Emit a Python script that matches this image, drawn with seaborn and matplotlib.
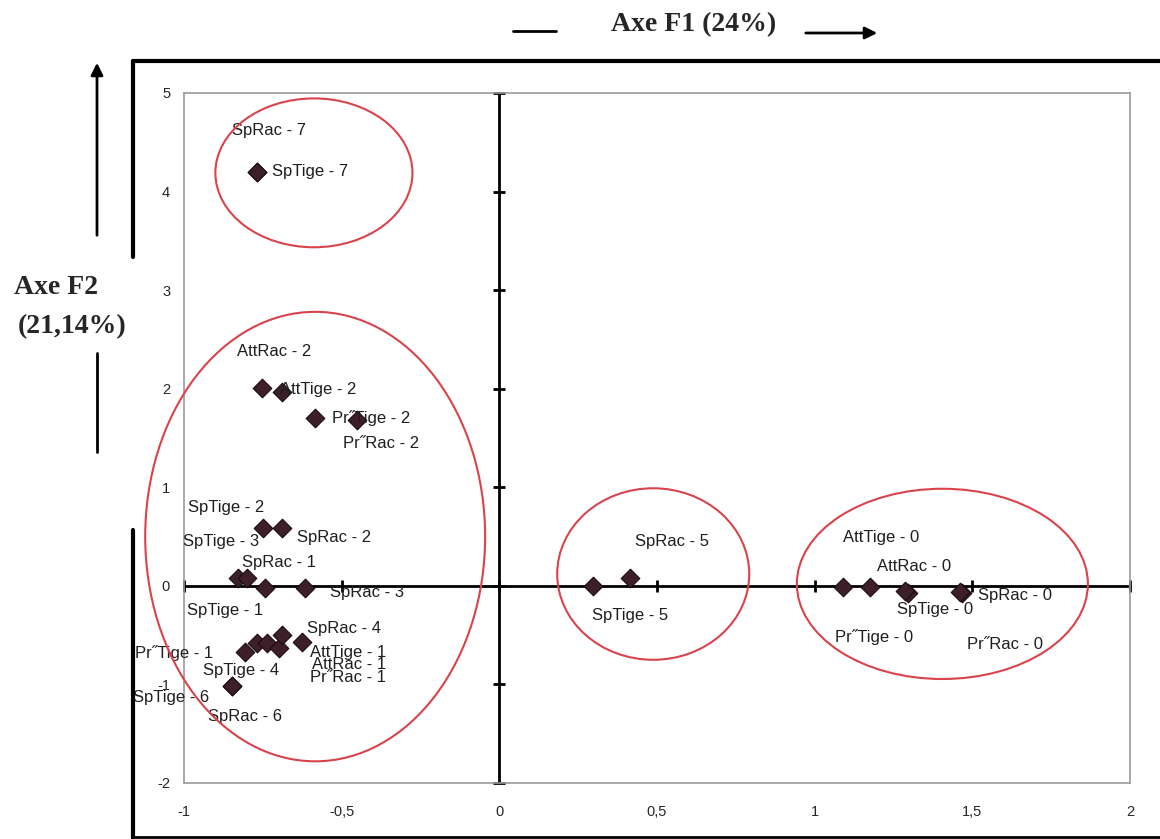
import matplotlib
matplotlib.use("Agg")
import matplotlib.pyplot as plt
import seaborn as sns
import pandas as pd
from matplotlib.patches import Ellipse
from matplotlib.lines import Line2D

# ACP coordinates
labels = ["SpRac - 7", "SpTige - 7",
          "AttTige - 2", "AttRac - 2", "Pr\u02ddTige - 2", "Pr\u02ddRac - 2",
          "SpTige - 2", "SpRac - 2", "SpTige - 3", "SpRac - 1",
          "SpTige - 1", "SpRac - 3",
          "Pr\u02ddTige - 1", "SpTige - 4", "Pr\u02ddRac - 1", "AttRac - 1",
          "SpRac - 4", "AttTige - 1", "SpTige - 6", "SpRac - 6",
          "SpTige - 5", "SpRac - 5",
          "AttTige - 0", "AttRac - 0", "SpTige - 0", "Pr\u02ddTige - 0",
          "SpRac - 0", "Pr\u02ddRac - 0"]
f1 = [-0.768, -0.768,
      -0.752, -0.688, -0.584, -0.450,
      -0.748, -0.688, -0.828, -0.799,
      -0.742, -0.615,
      -0.806, -0.768, -0.736, -0.698,
      -0.688, -0.625, -0.847, -0.847,
      0.298, 0.415,
      1.091, 1.177, 1.297, 1.288,
      1.468, 1.462]
f2 = [4.20, 4.20,
      2.01, 1.97, 1.70, 1.68,
      0.59, 0.59, 0.08, 0.08,
      -0.02, -0.02,
      -0.67, -0.58, -0.58, -0.63,
      -0.50, -0.57, -1.02, -1.02,
      0.00, 0.08,
      -0.01, -0.01, -0.07, -0.05,
      -0.07, -0.06]

x_ticks = [-1, -0.5, 0, 0.5, 1, 1.5, 2]
x_tick_labels = ["-1", "-0,5", "0", "0,5", "1", "1,5", "2"]
y_ticks = [-2, -1, 0, 1, 2, 3, 4, 5]

# label placement (pixels from the point)
label_offsets = [(-25, 41), (15, 0),
                 (18, -2), (-45, 40), (17, 0), (-14, -23),
                 (-75, 20), (15, -10), (-55, 36), (-5, 15),
                 (-78, -23), (25, -5),
                 (-110, -1), (-54, -27), (43, -34), (33, -17),
                 (25, 7), (8, -10), (-99, -11), (-24, -30),
                 (-1, -30), (5, 36),
                 (0, 49), (7, 20), (-11, -17), (-70, -46),
                 (16, -3), (7, -53)]

# groups circled in red: centre, width, height
groups = [((-0.588, 4.19), 0.625, 1.51),
          ((-0.584, 0.50), 1.078, 4.56),
          ((0.488, 0.12), 0.609, 1.74),
          ((1.405, 0.02), 0.923, 1.93)]

df = pd.DataFrame({"F1": f1, "F2": f2, "label": labels})

sns.set_style("white")
plt.rcParams["font.family"] = ["Liberation Sans", "DejaVu Sans"]
plt.rcParams["axes.unicode_minus"] = False

W, H = 1160, 839
fig = plt.figure(figsize=(W / 100, H / 100), dpi=100)
ax = fig.add_axes([184 / W, 1 - 783 / H, (1130 - 184) / W, (783 - 93) / H])

ax.set_xlim(-1, 2)
ax.set_ylim(-2, 5)
for sp in ax.spines.values():
    sp.set_color("#9a9a9a")
    sp.set_linewidth(1.2)

ax.set_xticks(x_ticks)
ax.set_xticklabels(x_tick_labels)
ax.set_yticks(y_ticks)
ax.tick_params(axis="both", length=0, labelsize=10.5)
ax.tick_params(axis="x", pad=16)
ax.tick_params(axis="y", pad=10)

# the two zero axes with their tick marks
ax.axhline(0, color="black", lw=2, zorder=2)
ax.axvline(0, color="black", lw=2, zorder=2)
ax.plot(x_ticks, [0] * len(x_ticks), ls="none", marker="|", ms=9, mew=2,
        color="black", clip_on=False, zorder=2)
ax.plot([0] * len(y_ticks), y_ticks, ls="none", marker="_", ms=9, mew=2,
        color="black", clip_on=False, zorder=2)

sns.scatterplot(data=df, x="F1", y="F2", marker="D", s=90, color="#3d1f29",
                edgecolor="#1a0c10", linewidth=0.8, ax=ax, zorder=3)

for lab, x, y, (dx, dy) in zip(labels, f1, f2, label_offsets):
    ax.annotate(lab, (x, y), xytext=(dx, dy), textcoords="offset pixels",
                ha="left", va="center", fontsize=12, color="#1e1e1e",
                annotation_clip=False, zorder=4)

for (cx, cy), w, h in groups:
    ax.add_patch(Ellipse((cx, cy), w, h, fill=False, edgecolor="#d9434b",
                         lw=1.5, clip_on=False, zorder=5))

ax.set_xlabel("")
ax.set_ylabel("")

# outer frame pieces (figure pixels, y from top)
def fline(x0, y0, x1, y1, lw=3):
    fig.add_artist(Line2D([x0 / W, x1 / W], [1 - y0 / H, 1 - y1 / H],
                          color="black", lw=lw, transform=fig.transFigure))

fline(133, 61, W, 61)
fline(133, 61, 133, 257)
fline(133, 530, 133, H)
fline(133, 837, W, 837, lw=2)

# axis titles with arrows
fig.text(694 / W, 1 - 25 / H, "Axe F1 (24%)", ha="center", va="center",
         fontsize=20, fontweight="bold", family="Liberation Serif")
fline(513, 31, 556, 31, lw=2)
ax.annotate("", xy=(880, H - 33), xytext=(803, H - 33), xycoords="figure pixels",
            textcoords="figure pixels", annotation_clip=False,
            arrowprops=dict(arrowstyle="-|>", color="black", lw=2,
                            mutation_scale=18))

fig.text(56 / W, 1 - 288 / H, "Axe F2", ha="center", va="center",
         fontsize=20, fontweight="bold", family="Liberation Serif")
fig.text(72 / W, 1 - 327 / H, "(21,14%)", ha="center", va="center",
         fontsize=20, fontweight="bold", family="Liberation Serif")
ax.annotate("", xy=(97, H - 60), xytext=(97, H - 238), xycoords="figure pixels",
            textcoords="figure pixels", annotation_clip=False,
            arrowprops=dict(arrowstyle="-|>", color="black", lw=2,
                            mutation_scale=18))
fline(97, 353, 97, 452, lw=2)

fig.savefig("out.png", dpi=100)
